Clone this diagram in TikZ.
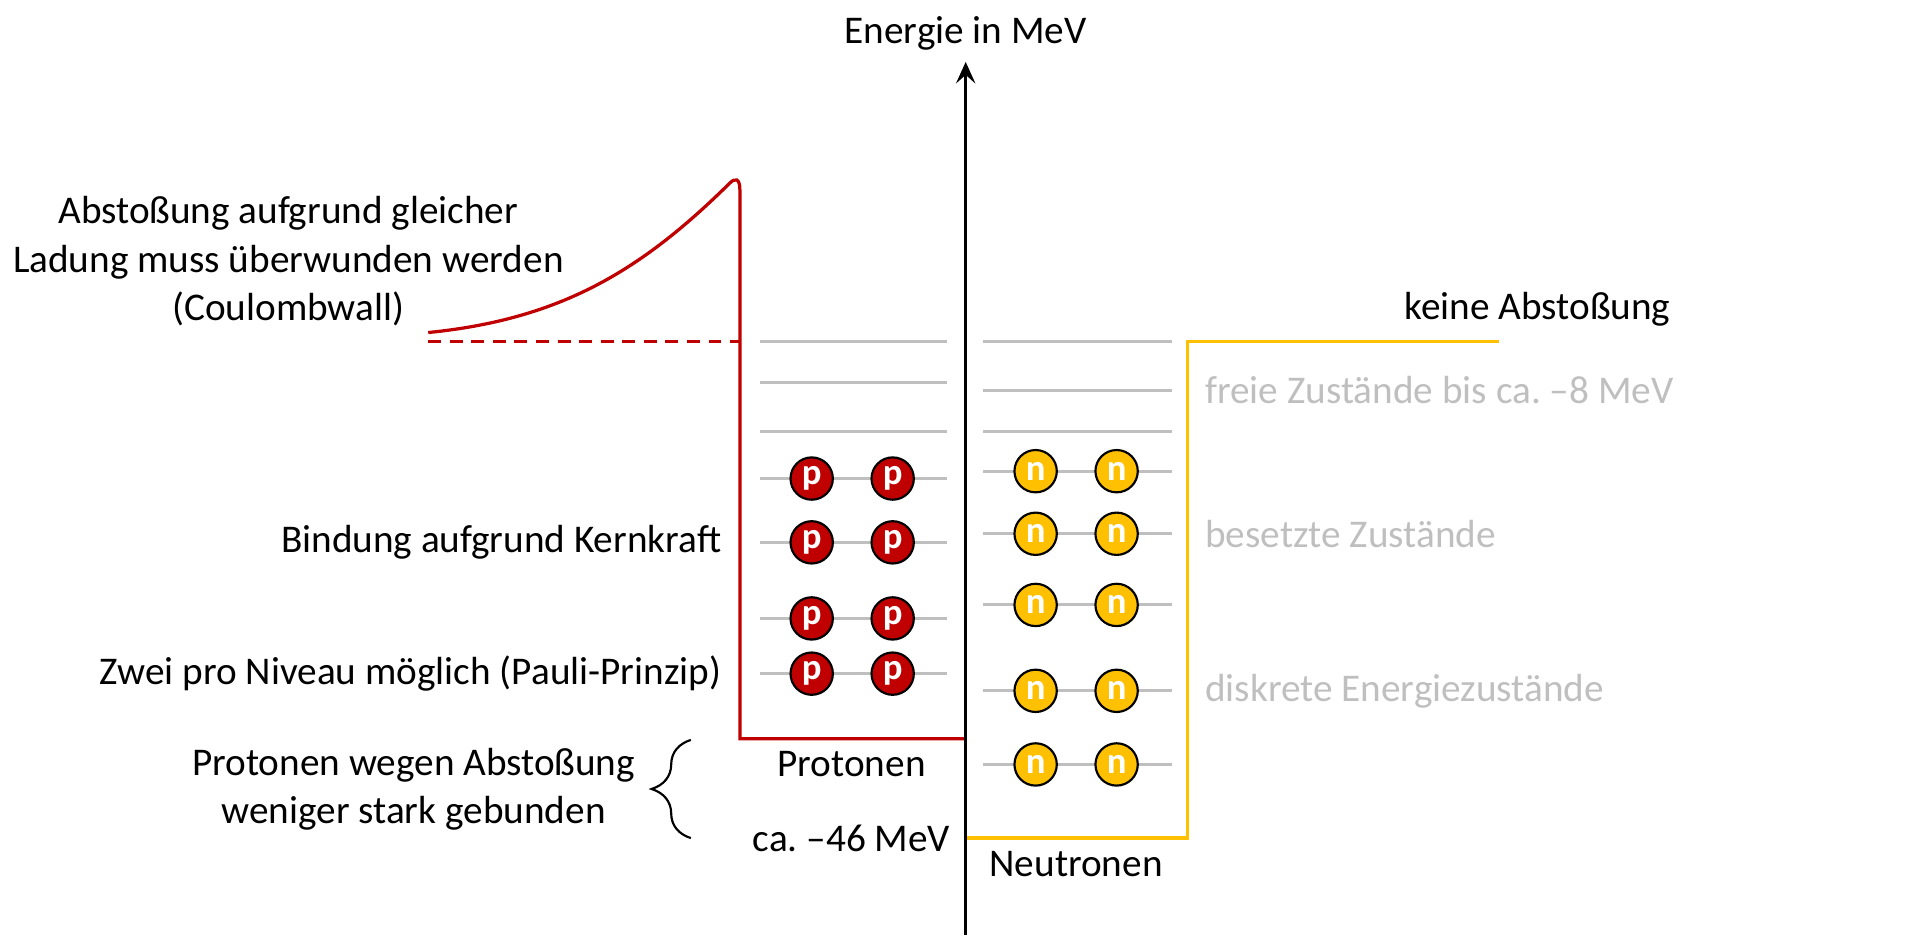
\documentclass[tikz,border=0pt]{standalone}
\usepackage{fontspec}
\setmainfont{Carlito}
\frenchspacing
\usetikzlibrary{arrows.meta, decorations.pathreplacing}
\definecolor{kernrot}{RGB}{192,0,0}
\definecolor{kerngelb}{RGB}{255,192,0}
\definecolor{niveaugrau}{RGB}{191,191,191}

\begin{document}
\begin{tikzpicture}[x=0.02cm, y=-0.02cm, font=\fontsize{18.2}{22.4}\selectfont,
        niveau/.style={niveaugrau, line width=1.4pt},
        topf/.style={line width=1.5pt},
        proton/.style={circle, draw, fill=kernrot, line width=1pt, minimum size=0.69cm, inner sep=0pt,
            text=white, font=\fontsize{17}{17}\selectfont\bfseries},
        neutron/.style={proton, fill=kerngelb},
        hinweis/.style={text=niveaugrau, anchor=west}]
    \useasboundingbox (0,0) rectangle (1568,769.4);

    % Energieniveaus
    \foreach \y in {278,312,352,390,442,504,549}
        \draw[niveau] (619,\y) -- (772,\y);
    \foreach \y in {278,318,352,384,435,493,563,623}
        \draw[niveau] (801,\y) -- (955,\y);

    % Potentialtopf Protonen (mit Coulombwall)
    \draw[topf, kernrot] (349,271) .. controls (460,260) and (525,218) .. (595,149)
        .. controls (599,145) and (603,145) .. (603,155) -- (603,602) -- (787,602);
    \draw[topf, kernrot, dash pattern=on 6pt off 4pt] (349,278) -- (603,278);

    % Potentialtopf Neutronen
    \draw[topf, kerngelb] (787,683) -- (968,683) -- (968,278) -- (1222,278);

    % Achse
    \coordinate (achse) at (787,762);
    \node (energie) at (787,27) {Energie in MeV};
    \draw[-{Stealth[length=10pt, width=9pt, inset=4pt]}, line width=1.2pt, shorten >=2pt] (achse) -- (energie);

    % Teilchen
    \foreach \y [count=\i] in {390,442,504,549} {
        \node[proton] (p\i a) at (661.5,\y) {p};
        \node[proton] (p\i b) at (727.5,\y) {p};
    }
    \foreach \y [count=\i] in {384,435,493,563,623} {
        \node[neutron] (n\i a) at (844,\y) {n};
        \node[neutron] (n\i b) at (910,\y) {n};
    }

    % Beschriftungen links
    \node[align=center] (coulomb) at (235,213) {Abstoßung aufgrund gleicher\\Ladung muss überwunden werden\\(Coulombwall)};
    \node[anchor=east] (kernkraft) at (594,442) {Bindung aufgrund Kernkraft};
    \node[anchor=east] (pauli) at (594,549) {Zwei pro Niveau möglich (Pauli-Prinzip)};
    \node[align=center] (schwach) at (337,643) {Protonen wegen Abstoßung\\weniger stark gebunden};
    \coordinate (klammer oben) at (563,603);
    \coordinate (klammer unten) at (563,683);
    \draw[line width=1pt, decorate, decoration={brace, amplitude=0.64cm}] (klammer unten) -- (klammer oben);

    % Beschriftungen Mitte
    \node (protonen) at (694,623) {Protonen};
    \node (ca46) at (694,683) {ca. –46 MeV};
    \node (neutronen) at (877,704) {Neutronen};

    % Beschriftungen rechts
    \node (keine) at (1253,252) {keine Abstoßung};
    \node[hinweis] (frei) at (976,318) {freie Zustände bis ca. –8 MeV};
    \node[hinweis] (besetzt) at (976,435) {besetzte Zustände};
    \node[hinweis] (diskret) at (976,563) {diskrete Energiezustände};
\end{tikzpicture}
\end{document}
